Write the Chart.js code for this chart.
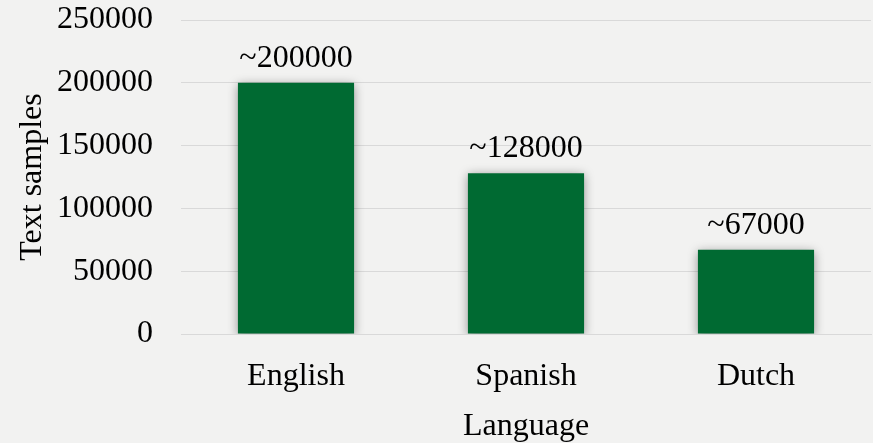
<!DOCTYPE html>
<html>
<head>
<meta charset="utf-8">
<script src="https://cdn.jsdelivr.net/npm/chart.js@4.4.1/dist/chart.umd.min.js"></script>
<style>
  html, body { margin: 0; padding: 0; background: #f2f2f1; }
  #wrap { width: 873px; height: 443px; }
</style>
</head>
<body>
<div id="wrap"><canvas id="barChart" width="873" height="443"></canvas></div>
<script>
const languages = ['English', 'Spanish', 'Dutch'];
const samples = [200000, 128000, 67000];
const valueLabels = ['~200000', '~128000', '~67000'];

const serif = '"Liberation Serif", "Times New Roman", serif';

// soft grey glow behind the bars
const barShadow = {
    id: 'barShadow',
    beforeDatasetDraw(chart) {
        const c = chart.ctx;
        c.save();
        c.shadowColor = 'rgba(0,0,0,0.4)';
        c.shadowBlur = 10;
        c.shadowOffsetX = 0;
        c.shadowOffsetY = 2;
    },
    afterDatasetDraw(chart) {
        chart.ctx.restore();
    }
};

// value text above each bar
const topLabels = {
    id: 'topLabels',
    afterDatasetsDraw(chart) {
        const c = chart.ctx;
        const meta = chart.getDatasetMeta(0);
        c.save();
        c.font = '32px ' + serif;
        c.fillStyle = '#000';
        c.textAlign = 'center';
        c.textBaseline = 'alphabetic';
        meta.data.forEach((bar, i) => {
            c.fillText(valueLabels[i], bar.x, bar.y - 16);
        });
        c.restore();
    }
};

new Chart(document.getElementById('barChart').getContext('2d'), {
    type: 'bar',
    data: {
        labels: languages,
        datasets: [{
            data: samples,
            backgroundColor: '#006a32',
            borderWidth: 0,
            categoryPercentage: 1.0,
            barPercentage: 0.505
        }]
    },
    options: {
        responsive: false,
        animation: false,
        layout: { padding: { top: 0, right: 2, left: 10, bottom: 0 } },
        plugins: {
            legend: { display: false },
            tooltip: { enabled: false }
        },
        scales: {
            x: {
                grid: { display: false, drawTicks: false },
                border: { display: true, color: '#d9d9d9', width: 1 },
                ticks: {
                    color: '#000',
                    padding: 27,
                    font: { family: serif, size: 32, lineHeight: 1 }
                },
                title: {
                    display: true,
                    text: 'Language',
                    color: '#000',
                    padding: { top: 18, bottom: 0 },
                    font: { family: serif, size: 32, lineHeight: 1 }
                },
                afterFit(scale) {
                    scale.height = 109;
                    scale.paddingLeft = 0;
                    scale.paddingRight = 0;
                }
            },
            y: {
                min: 0,
                max: 250000,
                ticks: {
                    stepSize: 50000,
                    color: '#000',
                    padding: 28,
                    font: { family: serif, size: 32, lineHeight: 1 },
                    callback: (v) => String(v)
                },
                grid: { color: '#d9d9d9', lineWidth: 1, drawTicks: false },
                border: { display: false },
                title: {
                    display: true,
                    text: 'Text samples',
                    color: '#000',
                    padding: { top: 7, bottom: 8 },
                    font: { family: serif, size: 32, lineHeight: 1 }
                },
                afterFit(scale) {
                    scale.width = 171;
                    scale.paddingTop = 20;
                    scale.paddingBottom = 0;
                }
            }
        }
    },
    plugins: [barShadow, topLabels]
});
</script>
</body>
</html>
